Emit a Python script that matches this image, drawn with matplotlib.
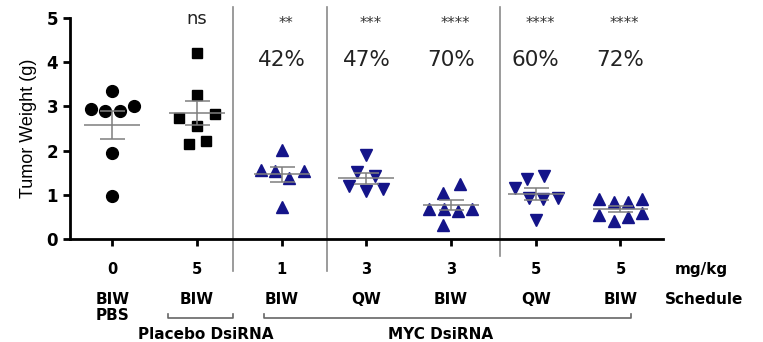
import matplotlib.pyplot as plt
import numpy as np

# Tumor weights (g) per treatment group, with horizontal jitter offsets
doses = ["0", "5", "1", "3", "3", "5", "5"]
schedules = ["BIW", "BIW", "BIW", "QW", "BIW", "QW", "BIW"]

weights = [
    [3.36, 2.94, 2.90, 2.90, 3.02, 1.94, 0.97],
    [4.22, 3.26, 2.73, 2.84, 2.56, 2.15, 2.22],
    [2.01, 1.56, 1.54, 1.55, 1.39, 0.73],
    [1.90, 1.51, 1.43, 1.20, 1.09, 1.13],
    [1.24, 1.05, 0.69, 0.69, 0.64, 0.69, 0.32],
    [1.37, 1.43, 1.15, 0.92, 0.90, 0.94, 0.43],
    [0.90, 0.83, 0.83, 0.90, 0.54, 0.41, 0.50, 0.60],
]
offsets = [
    [0.0, -0.25, -0.09, 0.09, 0.26, 0.0, 0.0],
    [0.0, 0.0, -0.21, 0.21, 0.0, -0.10, 0.11],
    [0.0, -0.25, -0.08, 0.26, 0.09, 0.0],
    [0.0, -0.11, 0.10, -0.21, 0.0, 0.20],
    [0.10, -0.10, -0.26, -0.08, 0.08, 0.25, -0.10],
    [-0.10, 0.10, -0.25, -0.08, 0.08, 0.26, 0.0],
    [-0.25, -0.08, 0.09, 0.25, -0.25, -0.08, 0.09, 0.25],
]
markers = ["o", "s", "^", "v", "^", "v", "^"]
pct = [None, None, "42%", "47%", "70%", "60%", "72%"]
stars = [None, "ns", "**", "***", "****", "****", "****"]

navy = "#141489"
colors = ["black", "black", navy, navy, navy, navy, navy]

fig = plt.figure(figsize=(7.63, 3.42), dpi=100)
ax = fig.add_axes([0.0917, 0.301, 0.777, 0.646])

for i, (w, off) in enumerate(zip(weights, offsets)):
    w = np.array(w)
    x = i + np.array(off)
    ax.plot(x, w, linestyle="none", marker=markers[i], color=colors[i],
            markersize=8.5 if markers[i] != "s" else 7, zorder=3)
    m = w.mean()
    sem = w.std(ddof=1) / np.sqrt(len(w))
    ax.hlines(m, i - 0.33, i + 0.33, color="#7f7f7f", lw=1.1, zorder=4)
    ax.errorbar(i, m, yerr=sem, color="#7f7f7f", lw=1.1, capsize=9,
                capthick=1.1, zorder=4)

    if pct[i]:
        ax.text(i, 4.05, pct[i], ha="center", va="center", fontsize=15.5,
                color="#222222", clip_on=False)
    if stars[i] == "ns":
        ax.text(i, 4.98, "ns", ha="center", va="center", fontsize=13,
                color="#222222", clip_on=False)
    elif stars[i]:
        ax.text(i + 0.05, 4.88, stars[i], ha="center", va="center",
                fontsize=10.5, color="#333333", clip_on=False)

# separators between treatment blocks
for xv, y0 in [(1.424, -0.72), (2.534, -0.72), (4.576, -0.38)]:
    ax.plot([xv, xv], [y0, 5.25], color="#8a8a8a", lw=1.2, clip_on=False,
            zorder=1)

ax.set_xlim(-0.5, 6.5)
ax.set_ylim(0, 5)
ax.set_yticks(range(6))
ax.set_xticks(range(7))
ax.set_xticklabels([])
ax.spines["top"].set_visible(False)
ax.spines["right"].set_visible(False)
ax.spines["left"].set_linewidth(2)
ax.spines["bottom"].set_linewidth(2)
ax.tick_params(axis="both", width=2, length=5, direction="out")
for lab in ax.get_yticklabels():
    lab.set_fontweight("bold")
    lab.set_fontsize(12)
ax.set_ylabel("Tumor Weight (g)", family="Liberation Sans", fontsize=13,
              labelpad=7)

# dose / schedule rows under the axis
for i in range(7):
    ax.text(i, -0.68, doses[i], ha="center", va="center", fontsize=10.5,
            fontweight="bold", clip_on=False)
    ax.text(i, -1.36, schedules[i], ha="center", va="center", fontsize=11,
            fontweight="bold", clip_on=False)
ax.text(0, -1.72, "PBS", ha="center", va="center", fontsize=11,
        fontweight="bold", clip_on=False)
ax.text(6.64, -0.68, "mg/kg", ha="left", va="center", fontsize=11,
        fontweight="bold", clip_on=False)
ax.text(6.52, -1.36, "Schedule", ha="left", va="center", fontsize=11,
        fontweight="bold", clip_on=False)

# group brackets
for x0, x1, label, xc in [(0.657, 1.424, "Placebo DsiRNA", 1.1),
                          (1.79, 6.13, "MYC DsiRNA", 3.87)]:
    ax.plot([x0, x0, x1, x1], [-1.70, -1.79, -1.79, -1.70], color="#666666",
            lw=1.2, clip_on=False)
    ax.text(xc, -2.17, label, ha="center", va="center", fontsize=11,
            fontweight="bold", clip_on=False)

fig.savefig("out.png", dpi=100)
